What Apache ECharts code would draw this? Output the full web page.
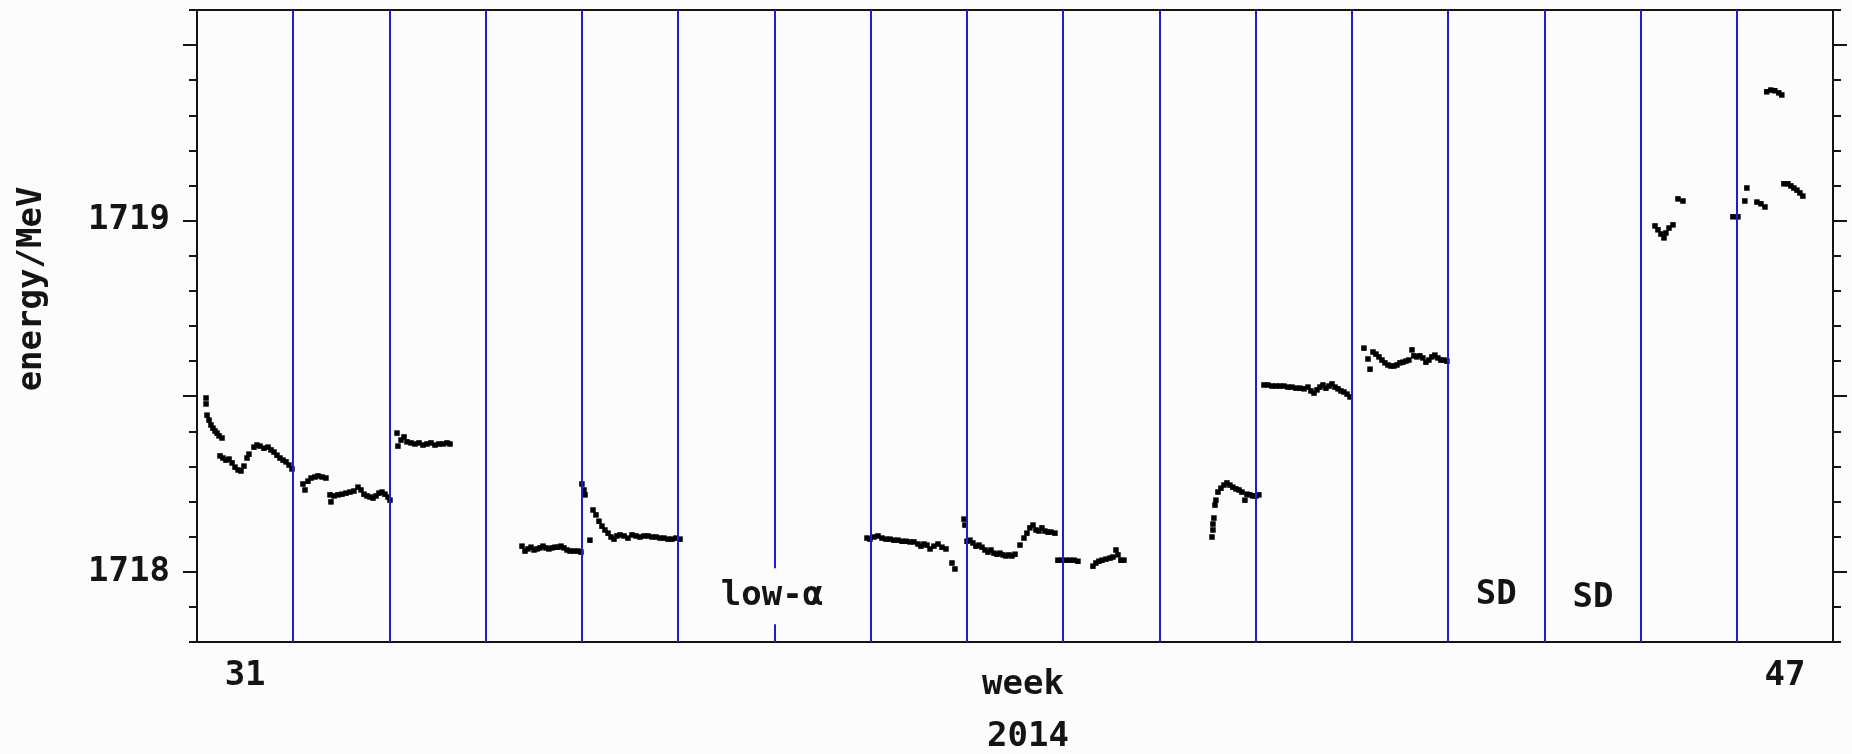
<!DOCTYPE html>
<html>
<head>
<meta charset="utf-8">
<title>Energy by week, 2014</title>
<script src="https://cdn.jsdelivr.net/npm/echarts@6/dist/echarts.min.js"></script>
<style>
  html, body { margin: 0; padding: 0; background: #fcfcfc; }
  #chart { width: 1852px; height: 754px; }
</style>
</head>
<body>
<div id="chart"></div>
<script>
// Measured energy [week, MeV], grouped by run
const wk31 = [
  [31.094, 1718.495], [31.094, 1718.478], [31.104, 1718.446], [31.125, 1718.432], [31.145, 1718.418],
  [31.166, 1718.409], [31.187, 1718.401], [31.208, 1718.395], [31.229, 1718.387], [31.260, 1718.381],
  [31.239, 1718.330], [31.270, 1718.324], [31.301, 1718.318], [31.333, 1718.321], [31.364, 1718.310],
  [31.395, 1718.298], [31.426, 1718.290], [31.457, 1718.287], [31.488, 1718.301], [31.520, 1718.324],
  [31.540, 1718.335], [31.592, 1718.355], [31.623, 1718.361], [31.655, 1718.358], [31.696, 1718.352],
  [31.738, 1718.355], [31.769, 1718.347], [31.800, 1718.341], [31.831, 1718.332], [31.862, 1718.324],
  [31.894, 1718.318], [31.925, 1718.313], [31.956, 1718.304], [31.987, 1718.293]
];
const wk32 = [
  [32.101, 1718.250], [32.122, 1718.233], [32.153, 1718.258], [32.185, 1718.267], [32.226, 1718.270],
  [32.257, 1718.273], [32.299, 1718.270], [32.340, 1718.267], [32.382, 1718.219], [32.392, 1718.199],
  [32.424, 1718.216], [32.465, 1718.219], [32.507, 1718.221], [32.548, 1718.224], [32.590, 1718.227],
  [32.631, 1718.230], [32.673, 1718.241], [32.704, 1718.233], [32.735, 1718.221], [32.766, 1718.216],
  [32.798, 1718.213], [32.829, 1718.210], [32.860, 1718.216], [32.891, 1718.224], [32.922, 1718.227],
  [32.953, 1718.221], [32.985, 1718.213], [33.005, 1718.204]
];
const wk33 = [
  [33.078, 1718.395], [33.088, 1718.358], [33.120, 1718.375], [33.151, 1718.384], [33.182, 1718.370],
  [33.224, 1718.367], [33.265, 1718.364], [33.307, 1718.367], [33.348, 1718.361], [33.390, 1718.364],
  [33.431, 1718.367], [33.473, 1718.361], [33.515, 1718.364], [33.556, 1718.364], [33.598, 1718.367],
  [33.629, 1718.364]
];
const wk34 = [
  [34.377, 1718.073], [34.408, 1718.059], [34.439, 1718.065], [34.471, 1718.070], [34.502, 1718.062],
  [34.533, 1718.065], [34.564, 1718.068], [34.595, 1718.073], [34.626, 1718.068], [34.657, 1718.065],
  [34.689, 1718.068], [34.720, 1718.070], [34.751, 1718.070], [34.782, 1718.073], [34.813, 1718.068],
  [34.845, 1718.062], [34.876, 1718.059], [34.917, 1718.059], [34.959, 1718.059], [34.990, 1718.056]
];
const wk35 = [
  [35.000, 1718.250], [35.021, 1718.233], [35.032, 1718.219], [35.083, 1718.090], [35.115, 1718.176],
  [35.146, 1718.162], [35.177, 1718.144], [35.208, 1718.130], [35.239, 1718.119], [35.271, 1718.110],
  [35.302, 1718.099], [35.333, 1718.093], [35.364, 1718.102], [35.395, 1718.105], [35.437, 1718.102],
  [35.478, 1718.096], [35.520, 1718.105], [35.561, 1718.102], [35.603, 1718.099], [35.645, 1718.102],
  [35.686, 1718.102], [35.728, 1718.099], [35.770, 1718.099], [35.811, 1718.096], [35.852, 1718.096],
  [35.894, 1718.093], [35.936, 1718.093], [35.977, 1718.096], [36.019, 1718.093]
];
const wk38 = [
  [37.962, 1718.096], [37.993, 1718.093], [38.034, 1718.099], [38.076, 1718.102], [38.118, 1718.096],
  [38.159, 1718.093], [38.201, 1718.093], [38.242, 1718.090], [38.284, 1718.090], [38.326, 1718.087],
  [38.367, 1718.087], [38.409, 1718.085], [38.450, 1718.085], [38.492, 1718.079], [38.523, 1718.073],
  [38.554, 1718.079], [38.585, 1718.076], [38.617, 1718.065], [38.658, 1718.073], [38.700, 1718.079],
  [38.741, 1718.070], [38.783, 1718.065], [38.845, 1718.025], [38.876, 1718.008], [38.970, 1718.150],
  [38.980, 1718.133]
];
const wk39 = [
  [39.001, 1718.087], [39.032, 1718.090], [39.063, 1718.082], [39.094, 1718.073], [39.126, 1718.076],
  [39.157, 1718.070], [39.188, 1718.062], [39.219, 1718.056], [39.250, 1718.062], [39.281, 1718.053],
  [39.313, 1718.050], [39.344, 1718.053], [39.375, 1718.048], [39.406, 1718.045], [39.437, 1718.048],
  [39.468, 1718.045], [39.500, 1718.050], [39.552, 1718.076], [39.593, 1718.096], [39.624, 1718.110],
  [39.655, 1718.125], [39.687, 1718.133], [39.718, 1718.119], [39.749, 1718.116], [39.780, 1718.125],
  [39.811, 1718.116], [39.842, 1718.113], [39.874, 1718.113], [39.915, 1718.110]
];
const wk40 = [
  [39.946, 1718.033], [39.988, 1718.033], [40.029, 1718.033], [40.071, 1718.033], [40.113, 1718.033],
  [40.154, 1718.030], [40.310, 1718.016], [40.341, 1718.025], [40.372, 1718.030], [40.404, 1718.033],
  [40.445, 1718.036], [40.487, 1718.039], [40.518, 1718.042], [40.549, 1718.062], [40.570, 1718.048],
  [40.601, 1718.033], [40.632, 1718.033]
];
const wk41 = [
  [41.547, 1718.099], [41.557, 1718.119], [41.557, 1718.136], [41.567, 1718.153], [41.578, 1718.190],
  [41.588, 1718.204], [41.609, 1718.227], [41.640, 1718.238], [41.671, 1718.247], [41.702, 1718.253],
  [41.733, 1718.247], [41.764, 1718.241], [41.796, 1718.236], [41.827, 1718.233], [41.858, 1718.227],
  [41.889, 1718.204], [41.910, 1718.221], [41.941, 1718.219], [41.972, 1718.216], [42.003, 1718.216],
  [42.034, 1718.219]
];
const wk42 = [
  [42.087, 1718.532], [42.128, 1718.532], [42.170, 1718.529], [42.211, 1718.529], [42.253, 1718.529],
  [42.295, 1718.529], [42.336, 1718.526], [42.378, 1718.526], [42.419, 1718.523], [42.461, 1718.523],
  [42.503, 1718.521], [42.544, 1718.526], [42.575, 1718.515], [42.607, 1718.509], [42.638, 1718.518],
  [42.669, 1718.526], [42.700, 1718.532], [42.731, 1718.523], [42.763, 1718.529], [42.794, 1718.535],
  [42.825, 1718.526], [42.856, 1718.521], [42.887, 1718.515], [42.918, 1718.512], [42.950, 1718.506],
  [42.981, 1718.498]
];
const wk43 = [
  [43.126, 1718.637], [43.168, 1718.606], [43.189, 1718.577], [43.220, 1718.626], [43.251, 1718.620],
  [43.282, 1718.612], [43.313, 1718.603], [43.344, 1718.595], [43.375, 1718.589], [43.406, 1718.586],
  [43.438, 1718.586], [43.469, 1718.589], [43.500, 1718.595], [43.531, 1718.597], [43.562, 1718.600],
  [43.593, 1718.603], [43.625, 1718.632], [43.645, 1718.615], [43.676, 1718.612], [43.707, 1718.615],
  [43.738, 1718.609], [43.770, 1718.597], [43.801, 1718.603], [43.832, 1718.612], [43.863, 1718.617],
  [43.894, 1718.609], [43.925, 1718.603], [43.956, 1718.603], [43.988, 1718.600]
];
const wk46 = [
  [46.150, 1718.985], [46.181, 1718.974], [46.212, 1718.962], [46.244, 1718.951], [46.264, 1718.965],
  [46.296, 1718.979], [46.337, 1718.988], [46.389, 1719.062], [46.441, 1719.056]
];
const wk47 = [
  [46.960, 1719.011], [47.012, 1719.011], [47.084, 1719.056], [47.105, 1719.093], [47.209, 1719.053],
  [47.251, 1719.048], [47.293, 1719.039], [47.312, 1719.367], [47.354, 1719.372], [47.395, 1719.370],
  [47.437, 1719.364], [47.468, 1719.358], [47.490, 1719.105], [47.531, 1719.105], [47.562, 1719.099],
  [47.593, 1719.093], [47.625, 1719.087], [47.656, 1719.079], [47.687, 1719.070]
];

// Week boundaries (start of each week) and the labelled weeks
const weekStarts = [32, 33, 34, 35, 36, 37, 38, 39, 40, 41, 42, 43, 44, 45, 46, 47];
const weekLabels = [31, 47];
const weekRange = [31, 48];

// Energy axis
const energyRange = [1717.8, 1719.6];
const energyMajorTicks = [1718, 1718.5, 1719, 1719.5];
const energyLabels = [1718, 1719];

// Notes written inside the plot
const noteWeeks = [36.975, 44.5, 45.505];
const noteEnergy = [1717.93, 1717.932, 1717.925];
const noteText = ['low-α', 'SD', 'SD'];

const FONT = '"DejaVu Sans Mono", monospace';
const INK = '#141414';
const BLUE = '#1e1ed0';

const samples = [].concat(wk31, wk32, wk33, wk34, wk35, wk38, wk39, wk40, wk41, wk42, wk43, wk46, wk47);
const notes = noteWeeks.map((w, i) => [w, noteEnergy[i], noteText[i]]);

const textStyle = { fontFamily: FONT, fontWeight: 'bold', fontSize: 34, color: INK };
const titleFont = 'bold 34px ' + FONT;

function yAxisDef(pos, major) {
  const ax = {
    type: 'value', position: pos, min: energyRange[0], max: energyRange[1],
    splitLine: { show: false },
    axisLine: { show: major, lineStyle: { color: INK, width: 2 } },
    axisTick: { show: true, inside: false, length: major ? 14 : 8, lineStyle: { color: INK, width: 2 } },
    axisLabel: { show: false }
  };
  if (major) {
    ax.axisTick.customValues = energyMajorTicks;
  } else {
    ax.interval = 0.1;
  }
  if (major && pos === 'left') {
    ax.axisLabel = Object.assign({ show: true, customValues: energyLabels, margin: 27,
      formatter: v => String(Math.round(v)) }, textStyle);
  }
  return ax;
}

const chart = echarts.init(document.getElementById('chart'), null, { renderer: 'canvas' });
chart.setOption({
  backgroundColor: '#fcfcfc',
  animation: false,
  grid: { left: 197, right: 19, top: 10, bottom: 112, containLabel: false, outerBoundsMode: 'none' },
  xAxis: [
    {
      type: 'value', position: 'bottom', min: weekRange[0], max: weekRange[1],
      splitLine: { show: false },
      axisLine: { show: true, lineStyle: { color: INK, width: 2 } },
      axisTick: { show: false },
      axisLabel: Object.assign({ customValues: weekLabels.map(w => w + 0.5), margin: 17,
        formatter: v => String(Math.floor(v)) }, textStyle)
    },
    {
      type: 'value', position: 'top', min: weekRange[0], max: weekRange[1],
      splitLine: { show: false },
      axisLine: { show: true, lineStyle: { color: INK, width: 2 } },
      axisTick: { show: false }, axisLabel: { show: false }
    }
  ],
  yAxis: [
    yAxisDef('left', true),
    yAxisDef('left', false),
    yAxisDef('right', true),
    yAxisDef('right', false)
  ],
  // Axis titles
  graphic: [
    {
      type: 'text', x: 32, y: 289, rotation: Math.PI / 2,
      style: { text: 'energy/MeV', font: titleFont, fill: INK, textAlign: 'center', textVerticalAlign: 'middle' }
    },
    {
      type: 'text', x: 1023, y: 685,
      style: { text: 'week', font: titleFont, fill: INK, textAlign: 'center', textVerticalAlign: 'middle' }
    },
    {
      type: 'text', x: 1028, y: 737,
      style: { text: '2014', font: titleFont, fill: INK, textAlign: 'center', textVerticalAlign: 'middle' }
    }
  ],
  series: [
    {
      name: 'week boundaries', type: 'line', data: [], z: 3,
      markLine: {
        silent: true, symbol: ['none', 'none'], animation: false,
        label: { show: false },
        lineStyle: { color: BLUE, width: 2, type: 'solid' },
        data: weekStarts.map(w => ({ xAxis: w }))
      }
    },
    {
      name: 'energy', type: 'scatter', data: samples, z: 2,
      symbol: 'rect', symbolSize: 5.5,
      itemStyle: { color: '#000', opacity: 1 }
    },
    {
      name: 'notes', type: 'scatter', data: notes, z: 6,
      symbolSize: 1, itemStyle: { color: 'rgba(0,0,0,0)', opacity: 1 },
      label: Object.assign({ show: true, position: 'inside', formatter: p => p.data[2],
        backgroundColor: '#fcfcfc', padding: [10, 4, 12, 4], lineHeight: 34 }, textStyle)
    }
  ]
});
</script>
</body>
</html>
